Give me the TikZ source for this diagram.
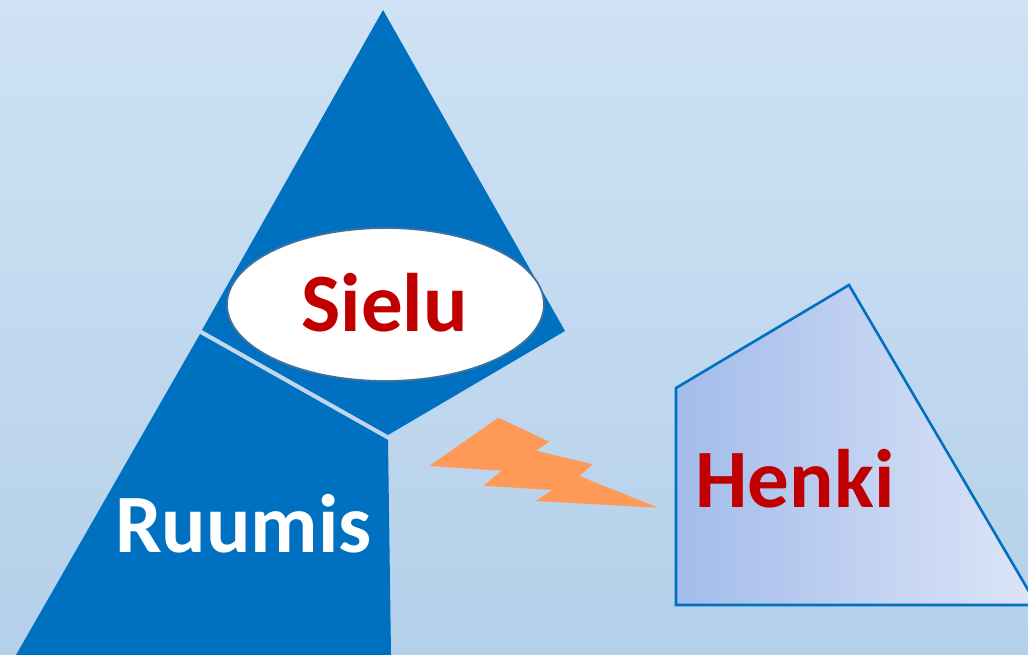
\documentclass[tikz,border=0pt]{standalone}
\usepackage{fontspec}
\usetikzlibrary{shapes.geometric}
\setmainfont{Carlito}
\definecolor{bgtop}{HTML}{CFE2F4}
\definecolor{bgbot}{HTML}{B4D0EA}
\definecolor{triblue}{HTML}{0070C0}
\definecolor{darkred}{HTML}{C00000}
\definecolor{ellline}{HTML}{41719C}
\definecolor{boltor}{HTML}{FF9958}
\definecolor{henkiL}{HTML}{A3BCEB}
\definecolor{henkiR}{HTML}{DDE5F7}
\tikzset{
  bigtext/.style={font=\fontsize{83}{90}\selectfont\bfseries, inner sep=0pt, anchor=base},
}
\begin{document}
\begin{tikzpicture}[x=1pt,y=-1pt]
\useasboundingbox (0,0) rectangle (1028,654);
\clip (0,0) rectangle (1028,654);
% background
\fill[top color=bgtop, bottom color=bgbot] (0,0) rectangle (1028,654);
% upper part of triangle
\fill[triblue] (383,10) -- (565,331) -- (388,435) -- (202,330) -- cycle;
% lower part of triangle
\fill[triblue] (200,334) -- (388,440) -- (391,655) -- (16,655) -- cycle;
% ellipse
\node[draw=ellline, line width=1.8pt, fill=white, ellipse, minimum width=317pt, minimum height=153pt, inner sep=0pt] (ell) at (385.5,304.5) {};
\node[bigtext, text=darkred] (sielu) at (384.5,331) {Sielu};
\node[bigtext, text=white] (ruumis) at (243.5,552) {Ruumis};
% bolt
\fill[boltor] (429.3,466) -- (498.3,417.7) -- (549.3,441.7) -- (536,450.7) -- (592.7,464.3) -- (579.3,476) -- (658.3,507.7) -- (535.7,501) -- (552.3,490) -- (483.3,485.7) -- (502,470.7) -- cycle;
% Henki pentagon
\draw[triblue, line width=2.6pt, left color=henkiL, right color=henkiR] (676,388) -- (849,285) -- (1037,605) -- (676,605) -- cycle;
\node[bigtext, text=darkred] (henki) at (795,507) {Henki};
\end{tikzpicture}
\end{document}
